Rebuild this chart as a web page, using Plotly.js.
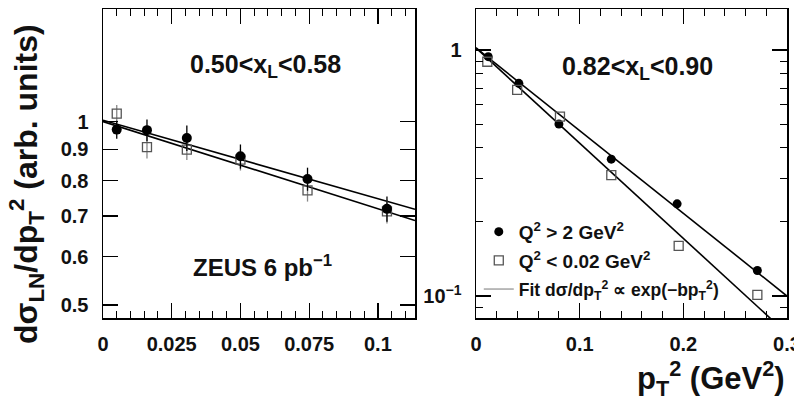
<!DOCTYPE html>
<html>
<head>
<meta charset="utf-8">
<script src="https://cdn.plot.ly/plotly-3.0.1.min.js"></script>
<style>html,body{margin:0;padding:0;background:#fff;}#chart{width:794px;height:403px;}</style>
</head>
<body>
<div id="chart"></div>
<script>
// ---------- Data: left panel 0.50 < xL < 0.58 ----------
const leftFilledX = [0.005, 0.016, 0.0305, 0.05, 0.0744, 0.1033];
const leftFilledY = [0.970, 0.968, 0.940, 0.877, 0.805, 0.719];
const leftFilledErr = [0.033, 0.040, 0.045, 0.040, 0.035, 0.034];
const leftOpenX = [0.005, 0.016, 0.0305, 0.05, 0.0744, 0.1033];
const leftOpenY = [1.030, 0.908, 0.899, 0.866, 0.771, 0.712];
const leftOpenErr = [0.035, 0.038, 0.034, 0.035, 0.032, 0.032];
const leftFitX = [0, 0.1135];
const leftFitFilledY = [1.005, 0.718];
const leftFitOpenY = [1.000, 0.688];

// ---------- Data: right panel 0.82 < xL < 0.90 ----------
const rightFilledX = [0.0118, 0.0413, 0.080, 0.1305, 0.194, 0.2714];
const rightFilledY = [0.940, 0.732, 0.500, 0.360, 0.237, 0.127];
const rightOpenX = [0.0109, 0.0397, 0.081, 0.1305, 0.1955, 0.2714];
const rightOpenY = [0.896, 0.688, 0.536, 0.310, 0.160, 0.101];
const rightFitX = [0, 0.3];
const rightFitFilledY = [1.02, 0.100];
const rightFitOpenY = [1.02, 0.0703];

// ---------- Tick labels ----------
const leftXTicks = [0, 0.025, 0.05, 0.075, 0.1];
const leftXTickText = ['0', '0.025', '0.05', '0.075', '0.1'];
const leftYTicks = [0.5, 0.6, 0.7, 0.8, 0.9, 1];
const leftYTickText = ['0.5', '0.6', '0.7', '0.8', '0.9', '1'];
const rightXTicks = [0, 0.1, 0.2, 0.3];
const rightXTickText = ['0', '0.1', '0.2', '0.3'];
const rightYTicks = [0.1, 1];
const rightYTickText = ['10<sup>−1</sup>', '1'];
const rightYMinor = [0.09, 0.2, 0.3, 0.4, 0.5, 0.6, 0.7, 0.8, 0.9];

const FONT = 'Liberation Sans, Arial, Helvetica, sans-serif';
const fillMarker = {symbol: 'circle', size: 10, color: '#000'};
const openMarker = {symbol: 'square-open', size: 9, color: '#555', line: {width: 1.3, color: '#555'}};
const fitLine = {color: '#000', width: 1.6};

const traces = [
  {x: leftFitX, y: leftFitFilledY, xaxis: 'x', yaxis: 'y', mode: 'lines', line: fitLine, showlegend: false, hoverinfo: 'skip'},
  {x: leftFitX, y: leftFitOpenY, xaxis: 'x', yaxis: 'y', mode: 'lines', line: fitLine, showlegend: false, hoverinfo: 'skip'},
  {x: leftOpenX, y: leftOpenY, xaxis: 'x', yaxis: 'y', mode: 'markers', marker: openMarker,
   error_y: {type: 'data', array: leftOpenErr, color: '#888', thickness: 1.3, width: 0}, showlegend: false},
  {x: leftFilledX, y: leftFilledY, xaxis: 'x', yaxis: 'y', mode: 'markers', marker: fillMarker,
   error_y: {type: 'data', array: leftFilledErr, color: '#000', thickness: 1.3, width: 0}, showlegend: false},

  {x: rightFitX, y: rightFitFilledY, xaxis: 'x2', yaxis: 'y2', mode: 'lines', line: fitLine, showlegend: false, hoverinfo: 'skip'},
  {x: rightFitX, y: rightFitOpenY, xaxis: 'x2', yaxis: 'y2', mode: 'lines', line: fitLine, showlegend: false, hoverinfo: 'skip'},
  {x: rightFilledX, y: rightFilledY, xaxis: 'x2', yaxis: 'y2', mode: 'markers', marker: {symbol: 'circle', size: 9, color: '#000'},
   name: '<b>Q<sup>2</sup> &gt; 2 GeV<sup>2</sup></b>', legendrank: 1, legendgroup: 'a'},
  {x: rightOpenX, y: rightOpenY, xaxis: 'x2', yaxis: 'y2', mode: 'markers', marker: openMarker,
   name: '<b>Q<sup>2</sup> &lt; 0.02 GeV<sup>2</sup></b>', legendrank: 2, legendgroup: 'b'},
  {x: [null], y: [null], xaxis: 'x2', yaxis: 'y2', mode: 'lines', line: {color: '#777', width: 1},
   name: '<b><span style="font-size:17.5px">Fit dσ/dp<sub>T</sub><sup>2</sup> ∝ exp(−bp<sub>T</sub><sup>2</sup>)</span></b>', legendrank: 3, legendgroup: 'c'}
];

function axisBase() {
  return {
    showline: true, linecolor: '#000', linewidth: 1.5, mirror: 'ticks',
    ticks: 'inside', ticklen: 15, tickwidth: 1.3, tickcolor: '#000',
    showgrid: false, zeroline: false, fixedrange: true, ticklabeloverflow: 'allow',
    tickfont: {family: FONT, size: 20, color: '#111', weight: 'bold'}
  };
}

const layout = {
  width: 794, height: 403,
  margin: {l: 0, r: 0, t: 0, b: 0},
  paper_bgcolor: '#fff', plot_bgcolor: '#fff',
  font: {family: FONT, color: '#000'},
  showlegend: true,
  legend: {x: 0.603, y: 0.472, xanchor: 'left', yanchor: 'top', bgcolor: 'rgba(0,0,0,0)',
           font: {family: FONT, size: 19, color: '#111'}, tracegroupgap: 1, itemwidth: 30},
  xaxis: Object.assign(axisBase(), {
    domain: [103/794, 415/794], anchor: 'y', range: [0, 0.1135],
    tickmode: 'array', tickvals: leftXTicks, ticktext: leftXTickText, ticklabelstandoff: 7,
    minor: {tickmode: 'linear', tick0: 0, dtick: 0.005, ticklen: 7, tickwidth: 1, tickcolor: '#000', ticks: 'inside', showgrid: false}
  }),
  yaxis: Object.assign(axisBase(), {
    domain: [1 - 318/403, 1 - 9/403], anchor: 'x', type: 'log',
    range: [Math.log10(0.476), Math.log10(1.53)],
    tickmode: 'array', tickvals: leftYTicks, ticktext: leftYTickText, ticklabelstandoff: 9
  }),
  xaxis2: Object.assign(axisBase(), {
    domain: [476/794, 787/794], anchor: 'y2', range: [0, 0.3],
    tickmode: 'array', tickvals: rightXTicks, ticktext: rightXTickText, ticklabelstandoff: 7,
    minor: {tickmode: 'linear', tick0: 0, dtick: 0.02, ticklen: 7, tickwidth: 1, tickcolor: '#000', ticks: 'inside', showgrid: false}
  }),
  yaxis2: Object.assign(axisBase(), {
    domain: [1 - 318/403, 1 - 9/403], anchor: 'x2', type: 'log',
    range: [Math.log10(0.0814), Math.log10(1.468)],
    tickmode: 'array', tickvals: rightYTicks, ticktext: rightYTickText, ticklabelstandoff: 9,
    minor: {tickmode: 'array', tickvals: rightYMinor, ticklen: 7, tickwidth: 1, tickcolor: '#000', ticks: 'inside', showgrid: false}
  }),
  annotations: [
    {text: '<b>dσ<sub>LN</sub>/dp<sub>T</sub><sup>2</sup> (arb. units)</b>', textangle: -90,
     xref: 'paper', yref: 'paper', x: 26/794, y: 1 - 184/403, xanchor: 'center', yanchor: 'middle',
     showarrow: false, font: {family: FONT, size: 32, color: '#111'}},
    {text: '<b>p<sub>T</sub><sup>2</sup> (GeV<sup>2</sup>)</b>',
     xref: 'paper', yref: 'paper', x: 711/794, y: 1 - 378/403, xanchor: 'center', yanchor: 'middle',
     showarrow: false, font: {family: FONT, size: 31, color: '#111'}},
    {text: '<b>0.50&lt;x<sub>L</sub>&lt;0.58</b>',
     xref: 'paper', yref: 'paper', x: 265/794, y: 1 - 66/403, xanchor: 'center', yanchor: 'middle',
     showarrow: false, font: {family: FONT, size: 25, color: '#111'}},
    {text: '<b>0.82&lt;x<sub>L</sub>&lt;0.90</b>',
     xref: 'paper', yref: 'paper', x: 637/794, y: 1 - 68/403, xanchor: 'center', yanchor: 'middle',
     showarrow: false, font: {family: FONT, size: 25, color: '#111'}},
    {text: '<b>ZEUS 6 pb<sup>−1</sup></b>',
     xref: 'paper', yref: 'paper', x: 262/794, y: 1 - 266/403, xanchor: 'center', yanchor: 'middle',
     showarrow: false, font: {family: FONT, size: 24, color: '#111'}}
  ]
};

Plotly.newPlot('chart', traces, layout, {displayModeBar: false, staticPlot: true});
</script>
</body>
</html>
